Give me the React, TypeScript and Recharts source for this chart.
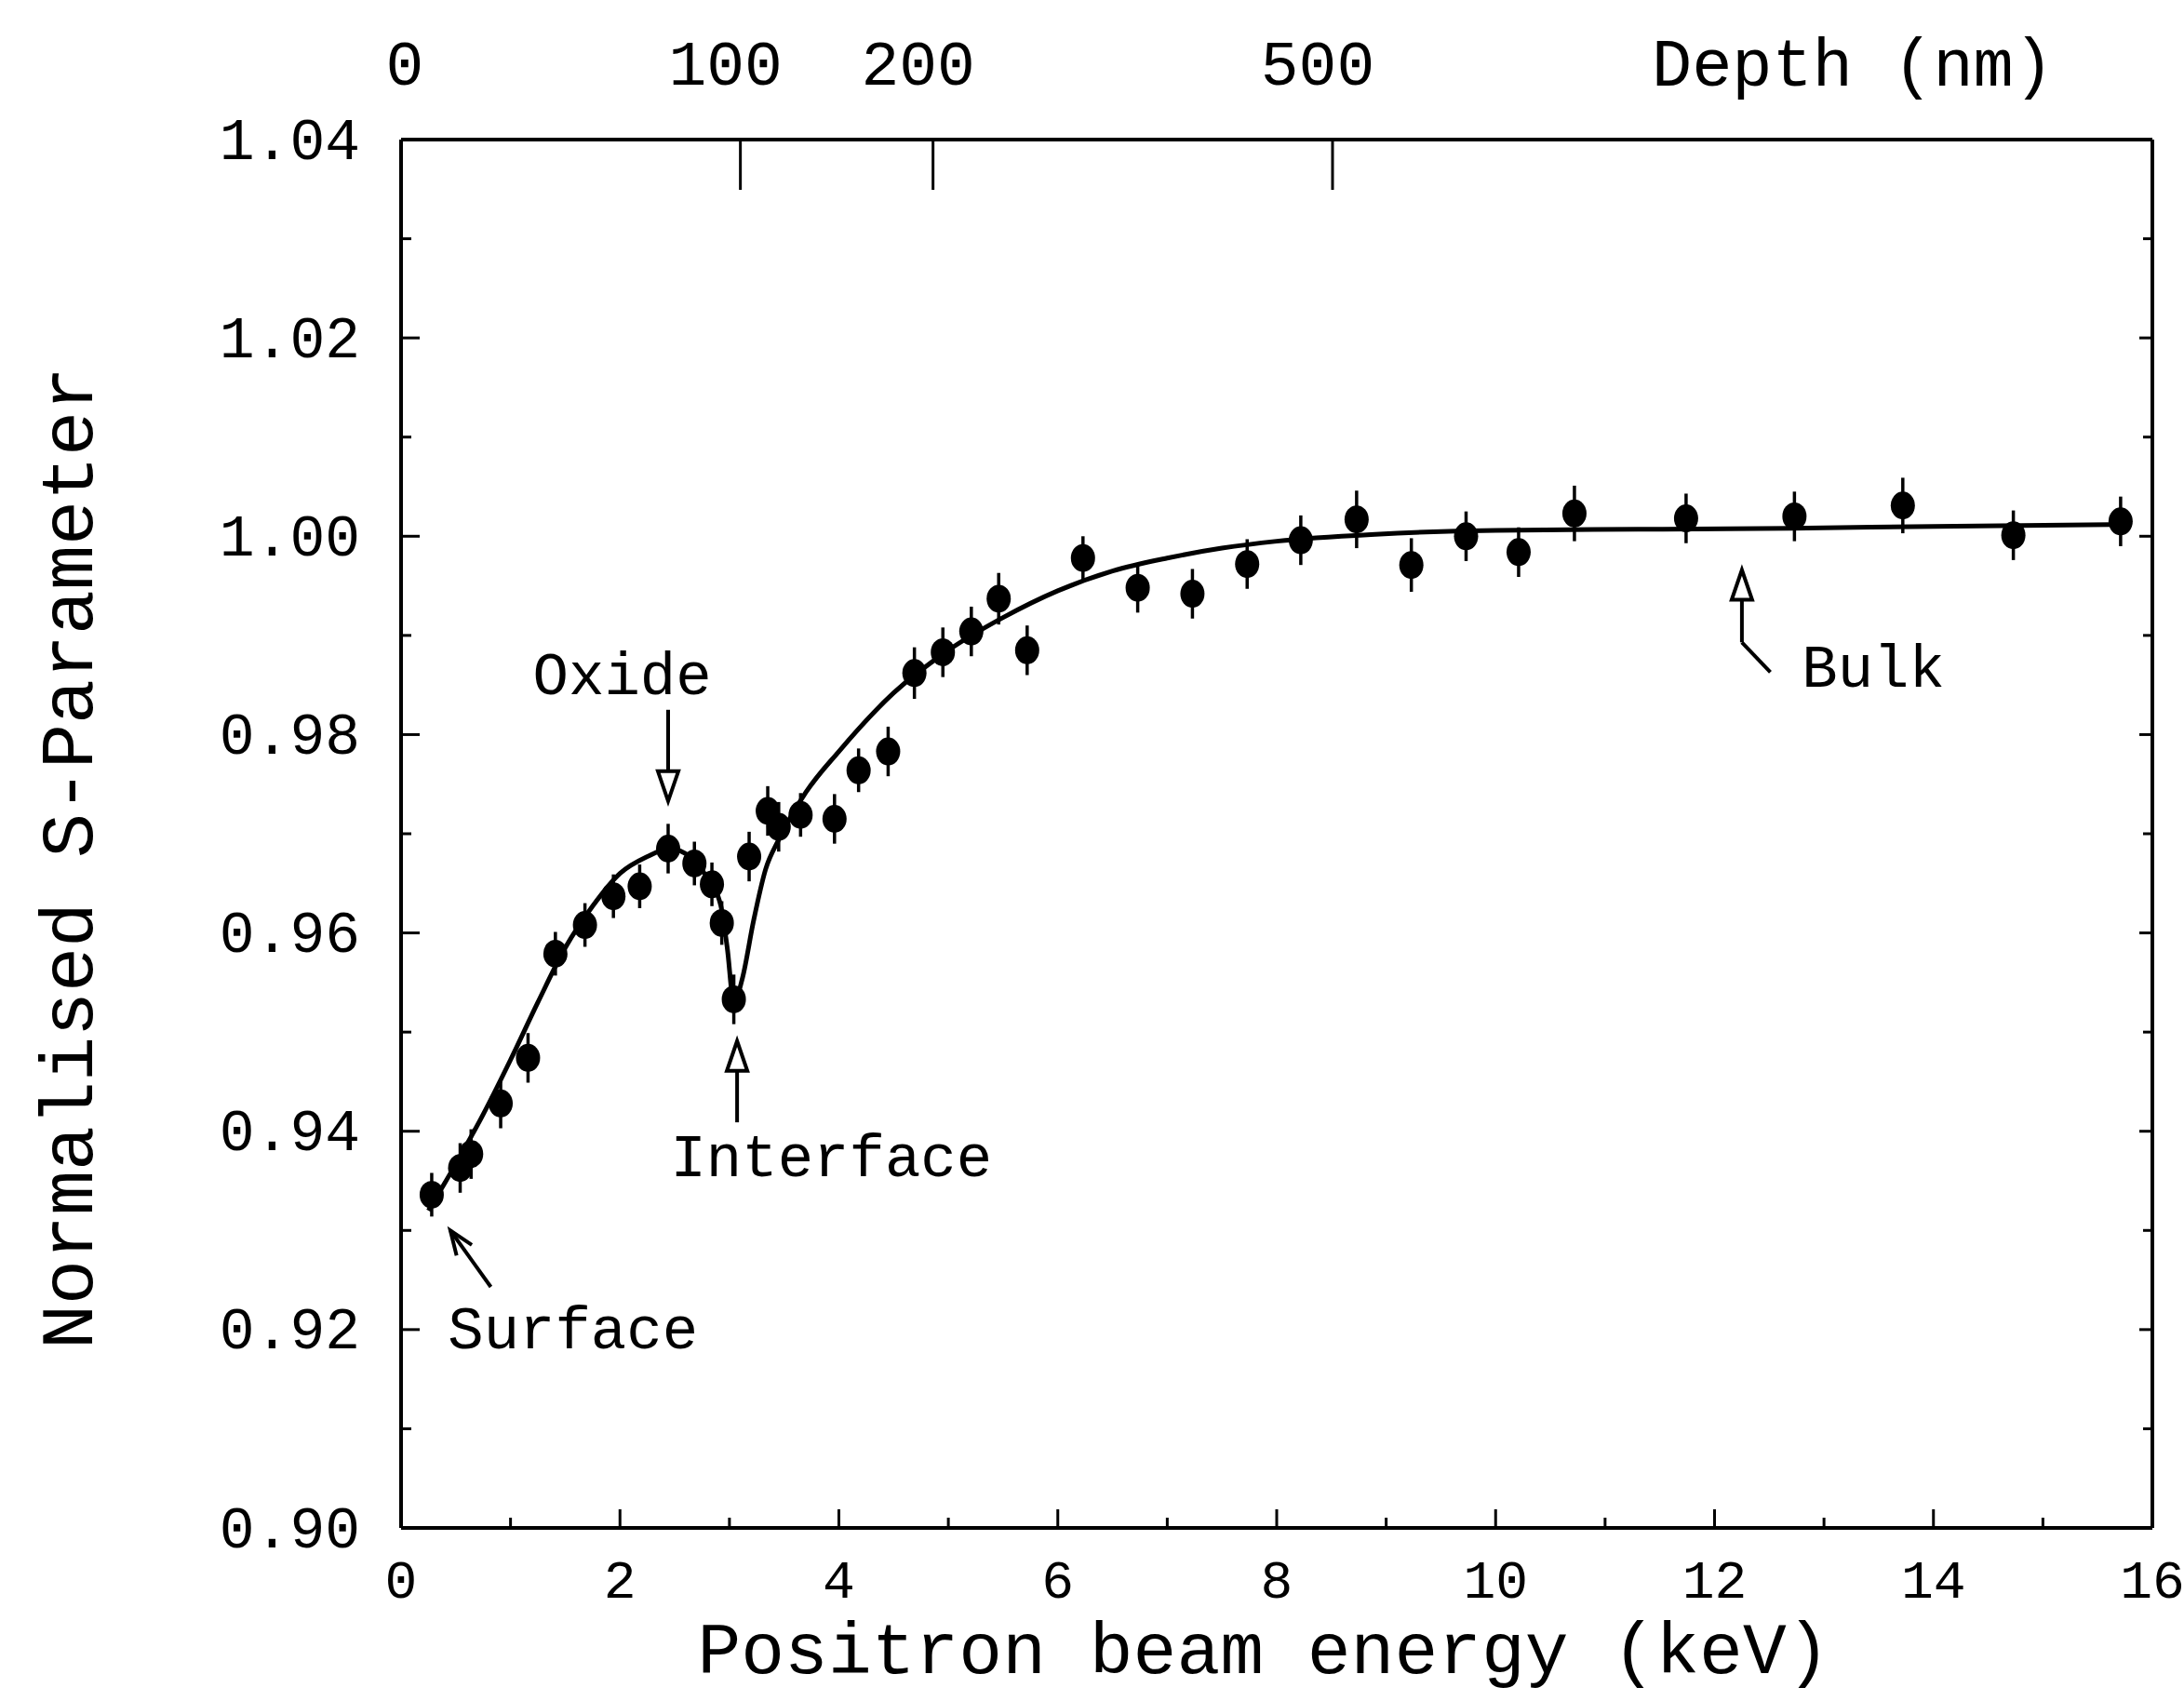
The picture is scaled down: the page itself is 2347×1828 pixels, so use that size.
import {
  ComposedChart,
  Line,
  Scatter,
  ErrorBar,
  XAxis,
  YAxis,
  ReferenceLine,
  ReferenceDot,
  Label,
} from "recharts";

const FONT = '"Liberation Mono", "DejaVu Sans Mono", monospace';
const INK = "#000";

// measured S-parameter points (energy in keV)
const energy = [
  0.28, 0.54, 0.64, 0.91, 1.16, 1.41, 1.68, 1.94, 2.18, 2.44, 2.68, 2.84, 2.93,
  3.04, 3.18, 3.35, 3.45, 3.65, 3.96, 4.18, 4.45, 4.69, 4.95, 5.21, 5.46, 5.72,
  6.23, 6.73, 7.23, 7.73, 8.22, 8.73, 9.23, 9.73, 10.21, 10.72, 11.74, 12.73,
  13.72, 14.73, 15.71,
];
const sParam = [
  0.9336, 0.9363, 0.9377, 0.9428, 0.9474, 0.9579, 0.9608, 0.9637, 0.9647,
  0.9685, 0.9670, 0.9649, 0.961, 0.9533, 0.9677, 0.9723, 0.9707, 0.9719,
  0.9715, 0.9764, 0.9783, 0.9862, 0.9883, 0.9904, 0.9937, 0.9885, 0.9978,
  0.9948, 0.9942, 0.9972, 0.9996, 1.0017, 0.9971, 1.0, 0.9984, 1.0023, 1.0018,
  1.002, 1.0031, 1.0001, 1.0015,
];
const sErr = [
  0.0022, 0.0025, 0.0025, 0.0025, 0.0025, 0.0022, 0.0022, 0.0022, 0.0022,
  0.0025, 0.0022, 0.0022, 0.0022, 0.0025, 0.0025, 0.0025, 0.0025, 0.0022,
  0.0025, 0.0022, 0.0025, 0.0026, 0.0025, 0.0025, 0.0026, 0.0025, 0.0022,
  0.0025, 0.0025, 0.0025, 0.0025, 0.0029, 0.0027, 0.0025, 0.0025, 0.0028,
  0.0025, 0.0025, 0.0028, 0.0025, 0.0025,
];

// fitted curve
const fitEnergy = [
  0.25, 0.5, 0.75, 1.0, 1.25, 1.5, 1.75, 2.0, 2.25, 2.45, 2.65, 2.8, 2.92, 2.98,
  3.04, 3.12, 3.22, 3.33, 3.45, 3.7, 4.0, 4.5, 5.0, 5.5, 6.0, 6.5, 7.0, 7.5,
  8.0, 8.9, 10.0, 11.3, 12.7, 14.0, 15.8,
];
const fitS = [
  0.932, 0.9367, 0.9417, 0.9472, 0.953, 0.9585, 0.9627, 0.966, 0.9677, 0.9685,
  0.9676, 0.9655, 0.9628, 0.9585, 0.953, 0.9555, 0.9612, 0.9664, 0.9694,
  0.9742, 0.9783, 0.9842, 0.9885, 0.9918, 0.9945, 0.9965, 0.9978, 0.9988,
  0.9995, 1.0002, 1.0006, 1.0007, 1.0008, 1.001, 1.0012,
];

const energyTicks = [0, 1, 2, 3, 4, 5, 6, 7, 8, 9, 10, 11, 12, 13, 14, 15, 16];
const sTicks = [
  0.9, 0.91, 0.92, 0.93, 0.94, 0.95, 0.96, 0.97, 0.98, 0.99, 1.0, 1.01, 1.02,
  1.03, 1.04,
];
// depth scale on top, placed at the matching beam energy
const depthTicks = [0, 3.1, 4.86, 8.51];
const depthLabels = ["0", "100", "200", "500"];

const points = energy.map((e, i) => ({ e, s: sParam[i], err: sErr[i] }));
const fit = fitEnergy.map((e, i) => ({ e, s: fitS[i] }));

const isMajorS = (v: number) => Math.round(v * 100) % 2 === 0;

function LeftTick(props: any) {
  const { x, y, payload } = props;
  const major = isMajorS(payload.value);
  return (
    <g>
      <line x1={x} y1={y} x2={x + (major ? 20 : 11)} y2={y} stroke={INK} strokeWidth={3} />
      {major && (
        <text x={x - 44} y={y + 4} textAnchor="end" dominantBaseline="central"
          fontFamily={FONT} fontSize={63} fill={INK}>
          {payload.value.toFixed(2)}
        </text>
      )}
    </g>
  );
}

function RightTick(props: any) {
  const { x, y, payload } = props;
  const major = isMajorS(payload.value);
  return <line x1={x} y1={y} x2={x - (major ? 14 : 10)} y2={y} stroke={INK} strokeWidth={3} />;
}

function BottomTick(props: any) {
  const { x, y, payload } = props;
  const major = payload.value % 2 === 0;
  return (
    <g>
      <line x1={x} y1={y} x2={x} y2={y - (major ? 20 : 11)} stroke={INK} strokeWidth={3} />
      {major && (
        <text x={x} y={y + 59} textAnchor="middle" dominantBaseline="central"
          fontFamily={FONT} fontSize={58} fill={INK}>
          {payload.value}
        </text>
      )}
    </g>
  );
}

function TopTick(props: any) {
  const { x, y, payload } = props;
  const idx = depthTicks.findIndex((d) => Math.abs(d - payload.value) < 1e-6);
  const label = depthLabels[idx];
  return (
    <g>
      {payload.value > 0 && (
        <line x1={x} y1={y} x2={x} y2={y + 54} stroke={INK} strokeWidth={3} />
      )}
      <text x={payload.value > 0 ? x - 16 : x + 4} y={y - 78} textAnchor="middle"
        dominantBaseline="central" fontFamily={FONT} fontSize={68} fill={INK}>
        {label}
      </text>
    </g>
  );
}

// annotation texts and arrows (data coordinates)
const notes = [
  { text: "Oxide", e: 2.02, s: 0.9857 },
  { text: "Interface", e: 3.93, s: 0.9371 },
  { text: "Surface", e: 1.57, s: 0.9197 },
  { text: "Bulk", e: 13.45, s: 0.9864 },
];
const shafts = [
  [{ x: 2.44, y: 0.9825 }, { x: 2.44, y: 0.974 }],
  [{ x: 3.07, y: 0.9409 }, { x: 3.07, y: 0.9485 }],
  [{ x: 0.82, y: 0.9243 }, { x: 0.45, y: 0.93 }],
  [{ x: 12.51, y: 0.9863 }, { x: 12.25, y: 0.9893 }],
  [{ x: 12.25, y: 0.9893 }, { x: 12.25, y: 0.996 }],
];
const heads = [
  { e: 2.44, s: 0.9733, angle: 90, open: true },
  { e: 3.07, s: 0.9491, angle: -90, open: true },
  { e: 0.45, s: 0.93, angle: -125, open: false },
  { e: 12.25, s: 0.9966, angle: -90, open: true },
];

function arrowHead(angle: number, open: boolean) {
  return (props: any) => {
    const { cx, cy } = props;
    const a = (angle * Math.PI) / 180;
    const len = open ? 32 : 26;
    const half = open ? 11 : 10;
    const bx = cx - Math.cos(a) * len;
    const by = cy - Math.sin(a) * len;
    const px = -Math.sin(a) * half;
    const py = Math.cos(a) * half;
    if (open) {
      return (
        <polygon points={`${cx},${cy} ${bx + px},${by + py} ${bx - px},${by - py}`}
          fill="#fff" stroke={INK} strokeWidth={4} strokeLinejoin="miter" />
      );
    }
    return (
      <polyline points={`${bx + px},${by + py} ${cx},${cy} ${bx - px},${by - py}`}
        fill="none" stroke={INK} strokeWidth={4} />
    );
  };
}

function noteText(text: string) {
  return (props: any) => (
    <text x={props.cx} y={props.cy} textAnchor="middle" dominantBaseline="central"
      fontFamily={FONT} fontSize={64} fill={INK}>
      {text}
    </text>
  );
}

export default function App() {
  return (
    <div style={{ position: "absolute", left: 0, top: 0, width: 2347, height: 1828, background: "#fff" }}>
      <ComposedChart width={2347} height={1828} margin={{ top: 0, right: 0, bottom: 0, left: 0 }}>
        <XAxis
          xAxisId="e"
          dataKey="e"
          type="number"
          domain={[0, 16]}
          ticks={energyTicks}
          interval={0}
          height={186}
          axisLine={{ stroke: INK, strokeWidth: 4 }}
          tickLine={false}
          tickSize={0}
          tickMargin={0}
          tick={BottomTick}
          allowDataOverflow
        >
          <Label
            content={(p: any) => (
              <text x={p.viewBox.x + p.viewBox.width / 2 - 14} y={p.viewBox.y + 156}
                textAnchor="middle" fontFamily={FONT} fontSize={78} fill={INK}>
                Positron beam energy (keV)
              </text>
            )}
          />
        </XAxis>
        <XAxis
          xAxisId="d"
          dataKey="e"
          type="number"
          orientation="top"
          domain={[0, 16]}
          ticks={depthTicks}
          interval={0}
          height={150}
          axisLine={{ stroke: INK, strokeWidth: 4 }}
          tickLine={false}
          tickSize={0}
          tickMargin={0}
          tick={TopTick}
          allowDataOverflow
        >
          <Label
            content={(p: any) => (
              <text x={p.viewBox.x + p.viewBox.width - 322} y={p.viewBox.y + 73}
                textAnchor="middle" dominantBaseline="central" fontFamily={FONT}
                fontSize={72} fill={INK}>
                Depth (nm)
              </text>
            )}
          />
        </XAxis>
        <YAxis
          yAxisId="s"
          dataKey="s"
          type="number"
          domain={[0.9, 1.04]}
          ticks={sTicks}
          interval={0}
          width={431}
          axisLine={{ stroke: INK, strokeWidth: 4 }}
          tickLine={false}
          tickSize={0}
          tickMargin={0}
          tick={LeftTick}
          allowDataOverflow
        >
          <Label
            content={(p: any) => {
              const cx = 77;
              const cy = p.viewBox.y + p.viewBox.height / 2 + 26;
              return (
                <text x={cx} y={cy} transform={`rotate(-90 ${cx} ${cy})`}
                  textAnchor="middle" dominantBaseline="central" fontFamily={FONT}
                  fontSize={80} fill={INK}>
                  Normalised S-Parameter
                </text>
              );
            }}
          />
        </YAxis>
        <YAxis
          yAxisId="r"
          dataKey="s"
          type="number"
          orientation="right"
          domain={[0.9, 1.04]}
          ticks={sTicks}
          interval={0}
          width={34}
          axisLine={{ stroke: INK, strokeWidth: 4 }}
          tickLine={false}
          tickSize={0}
          tickMargin={0}
          tick={RightTick}
          allowDataOverflow
        />

        <Line
          xAxisId="d"
          yAxisId="s"
          data={fit}
          dataKey="s"
          type="monotone"
          stroke={INK}
          strokeWidth={5}
          dot={false}
          activeDot={false}
          isAnimationActive={false}
        />
        <Scatter
          xAxisId="e"
          yAxisId="s"
          data={points}
          dataKey="s"
          fill={INK}
          isAnimationActive={false}
          shape={(p: any) => <ellipse cx={p.cx} cy={p.cy} rx={13} ry={15} fill={INK} />}
        >
          <ErrorBar dataKey="err" direction="y" width={0} stroke={INK} strokeWidth={3.5} isAnimationActive={false} />
        </Scatter>

        {shafts.map((seg, i) => (
          <ReferenceLine key={`shaft-${i}`} xAxisId="e" yAxisId="s" segment={seg}
            stroke={INK} strokeWidth={4} />
        ))}
        {heads.map((h, i) => (
          <ReferenceDot key={`head-${i}`} xAxisId="e" yAxisId="s" x={h.e} y={h.s} r={1}
            shape={arrowHead(h.angle, h.open)} />
        ))}
        {notes.map((n) => (
          <ReferenceDot key={n.text} xAxisId="e" yAxisId="s" x={n.e} y={n.s} r={1}
            shape={noteText(n.text)} />
        ))}
      </ComposedChart>
    </div>
  );
}
